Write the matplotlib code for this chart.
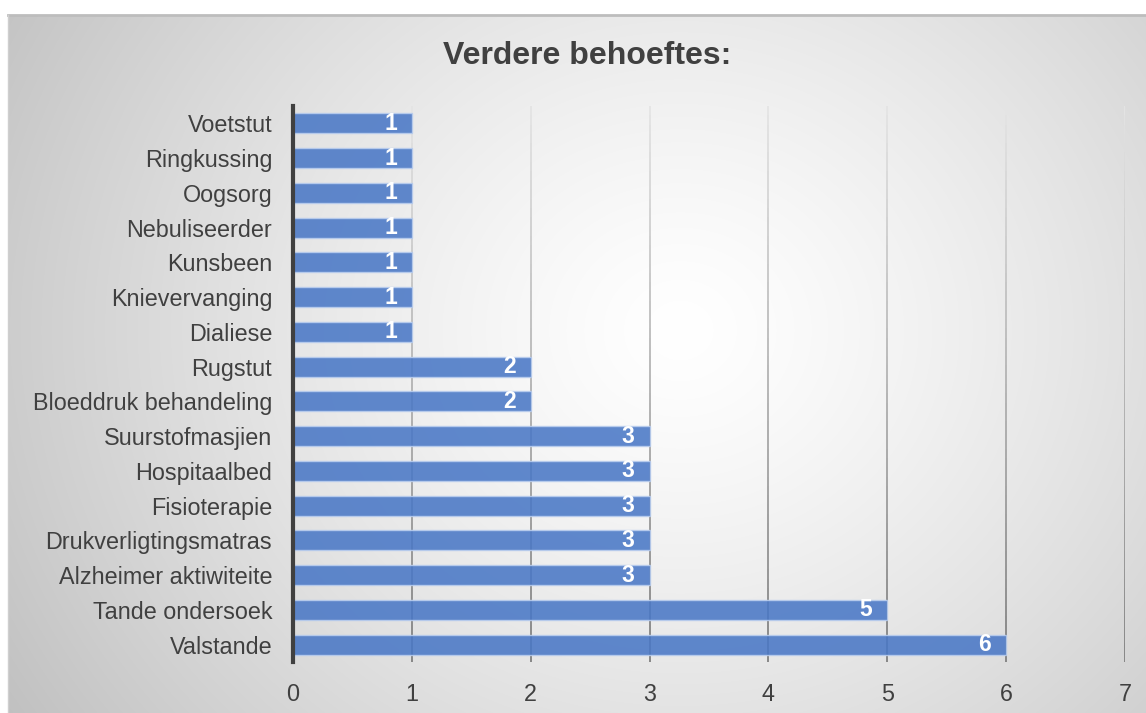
import numpy as np
import matplotlib
matplotlib.use("Agg")
import matplotlib.pyplot as plt
from matplotlib.collections import LineCollection

categories = ["Voetstut", "Ringkussing", "Oogsorg", "Nebuliseerder", "Kunsbeen",
              "Knievervanging", "Dialiese", "Rugstut", "Bloeddruk behandeling",
              "Suurstofmasjien", "Hospitaalbed", "Fisioterapie",
              "Drukverligtingsmatras", "Alzheimer aktiwiteite", "Tande ondersoek",
              "Valstande"]
values = [1, 1, 1, 1, 1, 1, 1, 2, 2, 3, 3, 3, 3, 3, 5, 6]
x_ticks = [0, 1, 2, 3, 4, 5, 6, 7]
title = "Verdere behoeftes:"

plt.rcParams['font.family'] = ['Liberation Sans', 'DejaVu Sans']
W, H = 1146, 713
fig = plt.figure(figsize=(W / 100, H / 100), dpi=100)
fig.patch.set_facecolor("white")

# background panel with radial gradient
px0, py0 = 8, 15
bg = fig.add_axes([px0 / W, 0, 1 - px0 / W, 1 - py0 / H], zorder=0)
bw, bh = W - px0, H - py0
yy, xx = np.mgrid[0:bh, 0:bw]
cx, cy = 680 - px0, 330 - py0
r = np.sqrt(((xx - cx) / 1.0) ** 2 + ((yy - cy) / 0.9) ** 2)
rmax = np.sqrt(cx ** 2 + (cy / 0.9) ** 2)
v = 1 - 0.23 * np.clip(r / rmax, 0, 1.2) ** 1.3
img = np.dstack([v, v, v])
bg.imshow(img, aspect="auto", extent=[0, 1, 0, 1], interpolation="bilinear")
bg.set_xlim(0, 1); bg.set_ylim(0, 1)
bg.axis("off")
fig.add_artist(plt.Line2D([px0 / W, 1], [1 - py0 / H, 1 - py0 / H],
                          transform=fig.transFigure, color="#bdbdbd", lw=2))
fig.add_artist(plt.Line2D([px0 / W, px0 / W], [0, 1 - py0 / H],
                          transform=fig.transFigure, color="#cfcfcf", lw=1))

ax = fig.add_axes([293 / W, 1 - 662 / H, (1125 - 293) / W, (662 - 106) / H], zorder=1)
ax.patch.set_alpha(0)
n = len(categories)
ypos = np.arange(n)[::-1]
ax.set_xlim(0, 7)
ax.set_ylim(-0.5, n - 0.5)

# gradient gridlines (light at top, darker at bottom)
nseg = 60
yedges = np.linspace(-0.5, n - 0.5, nseg + 1)
segs, cols = [], []
for xt in x_ticks[1:]:
    for i in range(nseg):
        segs.append([(xt, yedges[i]), (xt, yedges[i + 1])])
        t = (yedges[i] + 0.5) / n  # 0 bottom -> 1 top
        g = 0.50 + 0.40 * t
        cols.append((g, g, g))
ax.add_collection(LineCollection(segs, colors=cols, linewidths=1.3, zorder=1,
                                 capstyle="butt"))

ax.barh(ypos, values, height=0.58, color="#4a78c6", alpha=0.88,
        edgecolor="#b9cdee", linewidth=1.0, zorder=3)
for y, val in zip(ypos, values):
    ax.text(val - 0.125, y, str(val), ha="right", va="center", color="white",
            fontsize=16.5, fontweight="bold", zorder=4)

ax.set_xticks(x_ticks)
ax.set_xticklabels([str(t) for t in x_ticks])
ax.set_yticks(ypos)
ax.set_yticklabels(categories)
ax.tick_params(axis="both", length=0, labelsize=16.8, colors="#404040")
ax.tick_params(axis="x", pad=15)
ax.tick_params(axis="y", pad=15)
for s in ["top", "right", "bottom"]:
    ax.spines[s].set_visible(False)
ax.spines["left"].set_color("#404040")
ax.spines["left"].set_linewidth(3)
ax.spines["left"].set_zorder(5)

fig.text(587 / W, 1 - 56 / H, title, ha="center", va="center",
         fontsize=23, fontweight="bold", color="#404040")

fig.savefig("out.png", dpi=100)
